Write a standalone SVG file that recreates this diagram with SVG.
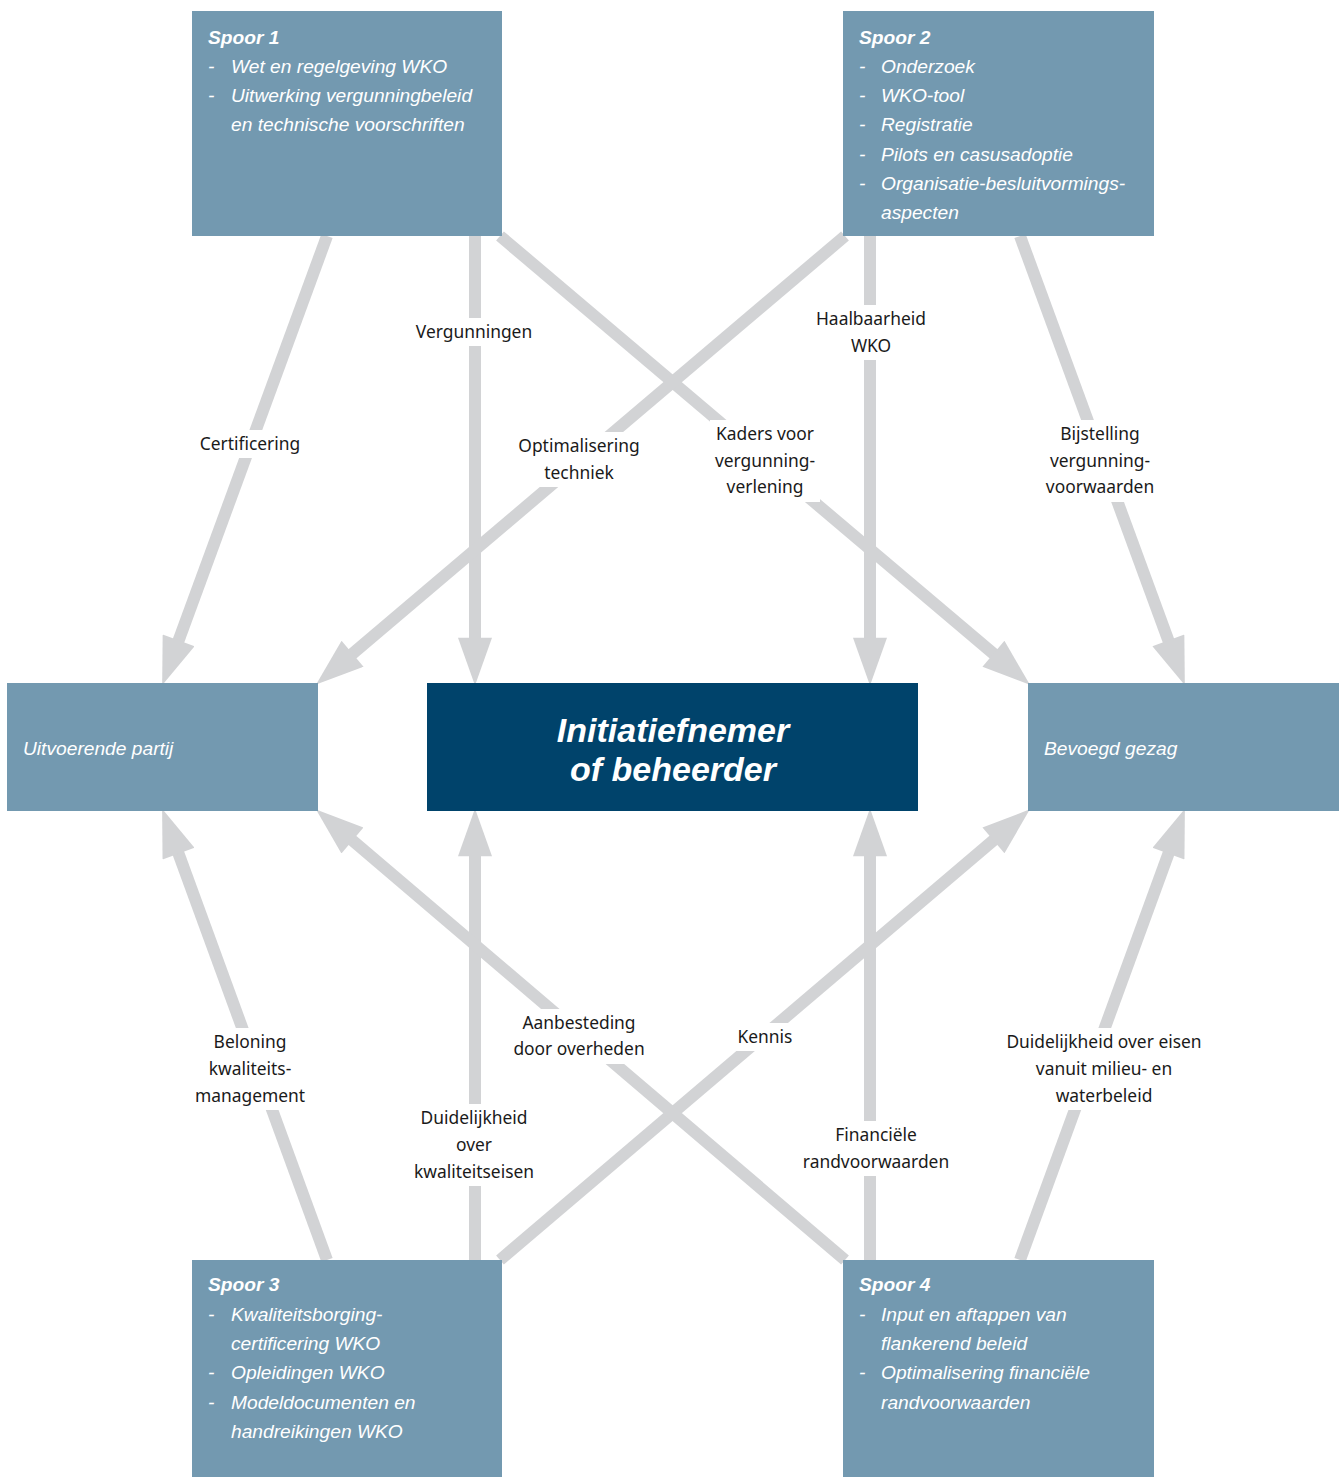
<svg xmlns="http://www.w3.org/2000/svg" width="1341" height="1477" viewBox="0 0 1341 1477">
<style>
.box{fill:#7399b0}
.main{fill:#00436b}
.conn{stroke:#d2d3d5;stroke-width:12;fill:none;marker-end:url(#ah)}
.bt{font-family:"Liberation Sans",Arial,sans-serif;font-style:italic;font-size:19.2px;fill:#fff}
.bh{font-weight:bold}
.mt{font-family:"Liberation Sans",Arial,sans-serif;font-style:italic;font-weight:bold;font-size:34px;fill:#fff;text-anchor:middle}
.lb{font-family:"Noto Sans","Liberation Sans",sans-serif;font-size:17.4px;fill:#1a1a1a;text-anchor:middle}
.bg{fill:#fff}
</style>
<defs>
<marker id="ah" markerUnits="userSpaceOnUse" markerWidth="50" markerHeight="34" refX="5" refY="16" orient="auto" viewBox="0 0 45 32">
<path d="M0,0 L45,16 L0,32 z" fill="#d2d3d5"/>
</marker>
</defs>
<rect width="1341" height="1477" fill="#fff"/>
<g id="connectors">
<line class="conn" x1="327" y1="236" x2="176.8" y2="645.4"/>
<line class="conn" x1="475" y1="236" x2="475" y2="643"/>
<line class="conn" x1="500" y1="236" x2="997.5" y2="657.2"/>
<line class="conn" x1="845" y1="236" x2="348.5" y2="657.1"/>
<line class="conn" x1="870" y1="236" x2="870" y2="643"/>
<line class="conn" x1="1020" y1="236" x2="1170.2" y2="645.4"/>
<line class="conn" x1="327" y1="1260" x2="176.7" y2="848.6"/>
<line class="conn" x1="475" y1="1260" x2="475" y2="851"/>
<line class="conn" x1="500" y1="1260" x2="997.5" y2="836.9"/>
<line class="conn" x1="845" y1="1260" x2="348.4" y2="837"/>
<line class="conn" x1="870" y1="1260" x2="870" y2="851"/>
<line class="conn" x1="1020" y1="1260" x2="1170.3" y2="848.6"/>
</g>
<g id="labels">
<rect class="bg" x="196" y="430" width="108" height="28"/>
<text class="lb" x="250" y="450">Certificering</text>
<rect class="bg" x="413" y="318" width="124" height="28"/>
<text class="lb" x="474" y="338">Vergunningen</text>
<rect class="bg" x="514" y="432" width="130" height="55"/>
<text class="lb" x="579" y="452">Optimalisering</text>
<text class="lb" x="579" y="479">techniek</text>
<rect class="bg" x="710" y="420" width="110" height="82"/>
<text class="lb" x="765" y="440">Kaders voor</text>
<text class="lb" x="765" y="467">vergunning-</text>
<text class="lb" x="765" y="493">verlening</text>
<rect class="bg" x="812" y="305" width="118" height="55"/>
<text class="lb" x="871" y="325">Haalbaarheid</text>
<text class="lb" x="871" y="352">WKO</text>
<rect class="bg" x="1040" y="420" width="120" height="82"/>
<text class="lb" x="1100" y="440">Bijstelling</text>
<text class="lb" x="1100" y="467">vergunning-</text>
<text class="lb" x="1100" y="493">voorwaarden</text>
<rect class="bg" x="190" y="1028" width="120" height="82"/>
<text class="lb" x="250" y="1048">Beloning</text>
<text class="lb" x="250" y="1075">kwaliteits-</text>
<text class="lb" x="250" y="1102">management</text>
<rect class="bg" x="508" y="1009" width="142" height="55"/>
<text class="lb" x="579" y="1029">Aanbesteding</text>
<text class="lb" x="579" y="1055">door overheden</text>
<rect class="bg" x="732" y="1023" width="66" height="28"/>
<text class="lb" x="765" y="1043">Kennis</text>
<rect class="bg" x="410" y="1104" width="130" height="82"/>
<text class="lb" x="474" y="1124">Duidelijkheid</text>
<text class="lb" x="474" y="1151">over</text>
<text class="lb" x="474" y="1178">kwaliteitseisen</text>
<rect class="bg" x="798" y="1121" width="156" height="55"/>
<text class="lb" x="876" y="1141">Financiële</text>
<text class="lb" x="876" y="1168">randvoorwaarden</text>
<rect class="bg" x="1002" y="1028" width="204" height="82"/>
<text class="lb" x="1104" y="1048">Duidelijkheid over eisen</text>
<text class="lb" x="1104" y="1075">vanuit milieu- en</text>
<text class="lb" x="1104" y="1102">waterbeleid</text>
</g>
<g id="spoor1">
<rect class="box" x="192" y="11" width="310" height="225"/>
<text class="bt bh" x="208" y="44">Spoor 1</text>
<text class="bt" x="208" y="73">-</text><text class="bt" x="231" y="73">Wet en regelgeving WKO</text>
<text class="bt" x="208" y="102">-</text><text class="bt" x="231" y="102">Uitwerking vergunningbeleid</text>
<text class="bt" x="231" y="131">en technische voorschriften</text>
</g>
<g id="spoor2">
<rect class="box" x="843" y="11" width="311" height="225"/>
<text class="bt bh" x="859" y="44">Spoor 2</text>
<text class="bt" x="859" y="73">-</text><text class="bt" x="881" y="73">Onderzoek</text>
<text class="bt" x="859" y="102">-</text><text class="bt" x="881" y="102">WKO-tool</text>
<text class="bt" x="859" y="131">-</text><text class="bt" x="881" y="131">Registratie</text>
<text class="bt" x="859" y="161">-</text><text class="bt" x="881" y="161">Pilots en casusadoptie</text>
<text class="bt" x="859" y="190">-</text><text class="bt" x="881" y="190">Organisatie-besluitvormings-</text>
<text class="bt" x="881" y="219">aspecten</text>
</g>
<g id="uitvoerende">
<rect class="box" x="7" y="683" width="311" height="128"/>
<text class="bt" x="23" y="755">Uitvoerende partij</text>
</g>
<g id="initiatiefnemer">
<rect class="main" x="427" y="683" width="491" height="128"/>
<text class="mt" x="673" y="742">Initiatiefnemer</text>
<text class="mt" x="673" y="781">of beheerder</text>
</g>
<g id="bevoegd">
<rect class="box" x="1028" y="683" width="311" height="128"/>
<text class="bt" x="1044" y="755">Bevoegd gezag</text>
</g>
<g id="spoor3">
<rect class="box" x="192" y="1260" width="310" height="217"/>
<text class="bt bh" x="208" y="1291">Spoor 3</text>
<text class="bt" x="208" y="1321">-</text><text class="bt" x="231" y="1321">Kwaliteitsborging-</text>
<text class="bt" x="231" y="1350">certificering WKO</text>
<text class="bt" x="208" y="1379">-</text><text class="bt" x="231" y="1379">Opleidingen WKO</text>
<text class="bt" x="208" y="1409">-</text><text class="bt" x="231" y="1409">Modeldocumenten en</text>
<text class="bt" x="231" y="1438">handreikingen WKO</text>
</g>
<g id="spoor4">
<rect class="box" x="843" y="1260" width="311" height="217"/>
<text class="bt bh" x="859" y="1291">Spoor 4</text>
<text class="bt" x="859" y="1321">-</text><text class="bt" x="881" y="1321">Input en aftappen van</text>
<text class="bt" x="881" y="1350">flankerend beleid</text>
<text class="bt" x="859" y="1379">-</text><text class="bt" x="881" y="1379">Optimalisering financiële</text>
<text class="bt" x="881" y="1409">randvoorwaarden</text>
</g>
</svg>
